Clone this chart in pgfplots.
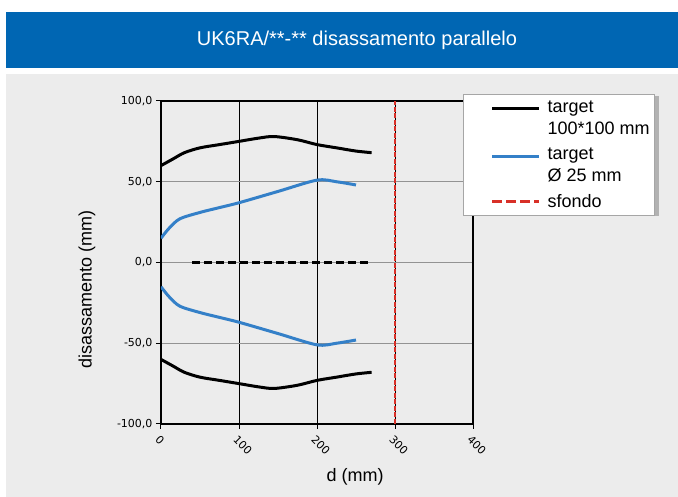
\documentclass[border=0pt]{standalone}
\usepackage{fontspec}
\setmainfont{Liberation Sans}
\newfontfamily\tickfont{DejaVu Sans}
\usepackage{pgfplots}
\pgfplotsset{compat=1.18}
\definecolor{banner}{RGB}{0,102,179}
\definecolor{bg}{RGB}{236,236,236}
\definecolor{curveblue}{RGB}{52,128,200}
\definecolor{sfondored}{RGB}{216,48,40}
\pgfplotsset{
  twoline legend/.style={legend image code/.code={\path (0pt,0pt) (76pt,0pt); \draw[##1] (24pt,9pt) -- (71pt,9pt);}},
  dashed legend/.style={legend image code/.code={\path (0pt,0pt) (76pt,0pt); \draw[##1, line width=3pt, dash pattern=on 10pt off 4pt] (24pt,0pt) -- (71pt,0pt);}},
}

\begin{document}
\begin{tikzpicture}[x=1pt,y=1pt]
\useasboundingbox (0,0) rectangle (678,497);
\fill[white] (0,0) rectangle (678,497);
\fill[bg] (6,0) rectangle (678,423);
\fill[banner] (6,429) rectangle (678,485);
\node[white, font=\fontsize{20}{23}\selectfont] at (357,457) {UK6RA/**-** disassamento parallelo};
% shadow behind the legend box
\fill[gray!60] (465,281) rectangle (659,401);
\begin{axis}[
  scale only axis, width=312pt, height=323pt,
  at={(161pt,73pt)}, anchor=south west,
  xmin=0, xmax=400, ymin=-100, ymax=100,
  xtick={0,100,...,400}, ytick={-100,-50,...,100},
  xtick pos=left, ytick pos=left,
  tick align=outside, major tick length=5pt,
  grid=major,
  x grid style={black, line width=1pt},
  y grid style={gray!85, line width=1pt},
  axis line style={black, line width=1.2pt},
  tick style={black, line width=1pt},
  /pgf/number format/assume math mode=true,
  ticklabel style={font=\tickfont\fontsize{11}{13}\selectfont},
  xticklabel style={rotate=-45, anchor=north west, yshift=-1pt},
  yticklabel style={/pgf/number format/.cd, fixed, fixed zerofill, precision=1, use comma},
  xlabel={d (mm)}, ylabel={disassamento (mm)},
  label style={font=\fontsize{18}{22}\selectfont},
  xlabel style={at={(axis description cs:0.622,0)}, anchor=center, yshift=-53pt},
  ylabel style={at={(axis description cs:0,0.416)}, anchor=center, yshift=74pt},
  legend cell align=left,
  legend image code/.code={\path (0pt,0pt) (76pt,0pt); \draw[#1] (24pt,0pt) -- (71pt,0pt);},
  legend style={at={(rel axis cs:0.968,1.022)}, anchor=north west,
    draw=gray!70, line width=1pt, fill=white,
    font=\fontsize{18}{22}\selectfont, cells={align=left},
    inner xsep=3pt, inner ysep=4pt, row sep=8pt},
]
\addplot[black, line width=3pt, smooth, twoline legend] coordinates {
 (0,60) (15,64) (30,68) (50,71) (75,73) (100,75) (125,77) (145,78) (175,76) (200,73) (225,71) (250,69) (270,68)};
\addlegendentry{target\\100*100 mm}
\addplot[curveblue, line width=3pt, smooth, twoline legend] coordinates {
 (0,15) (10,21) (24,27) (50,31) (75,34) (100,37) (150,44) (200,51) (225,50) (250,48)};
\addlegendentry{target\\Ø 25 mm}
\addplot[sfondored, line width=2pt, dash pattern=on 5pt off 1.5pt, dashed legend] coordinates {(300,-100) (300,100)};
\addlegendentry{sfondo}
\addplot[black, line width=3pt, smooth, forget plot] coordinates {
 (0,-60) (15,-64) (30,-68) (50,-71) (75,-73) (100,-75) (125,-77) (145,-78) (175,-76) (200,-73) (225,-71) (250,-69) (270,-68)};
\addplot[curveblue, line width=3pt, smooth, forget plot] coordinates {
 (0,-15) (10,-21) (24,-27) (50,-31) (75,-34) (100,-37) (150,-44) (200,-51) (225,-50) (250,-48)};
\addplot[black, line width=3pt, dash pattern=on 8pt off 4pt, forget plot] coordinates {(40,0) (270,0)};
\end{axis}
\end{tikzpicture}
\end{document}
